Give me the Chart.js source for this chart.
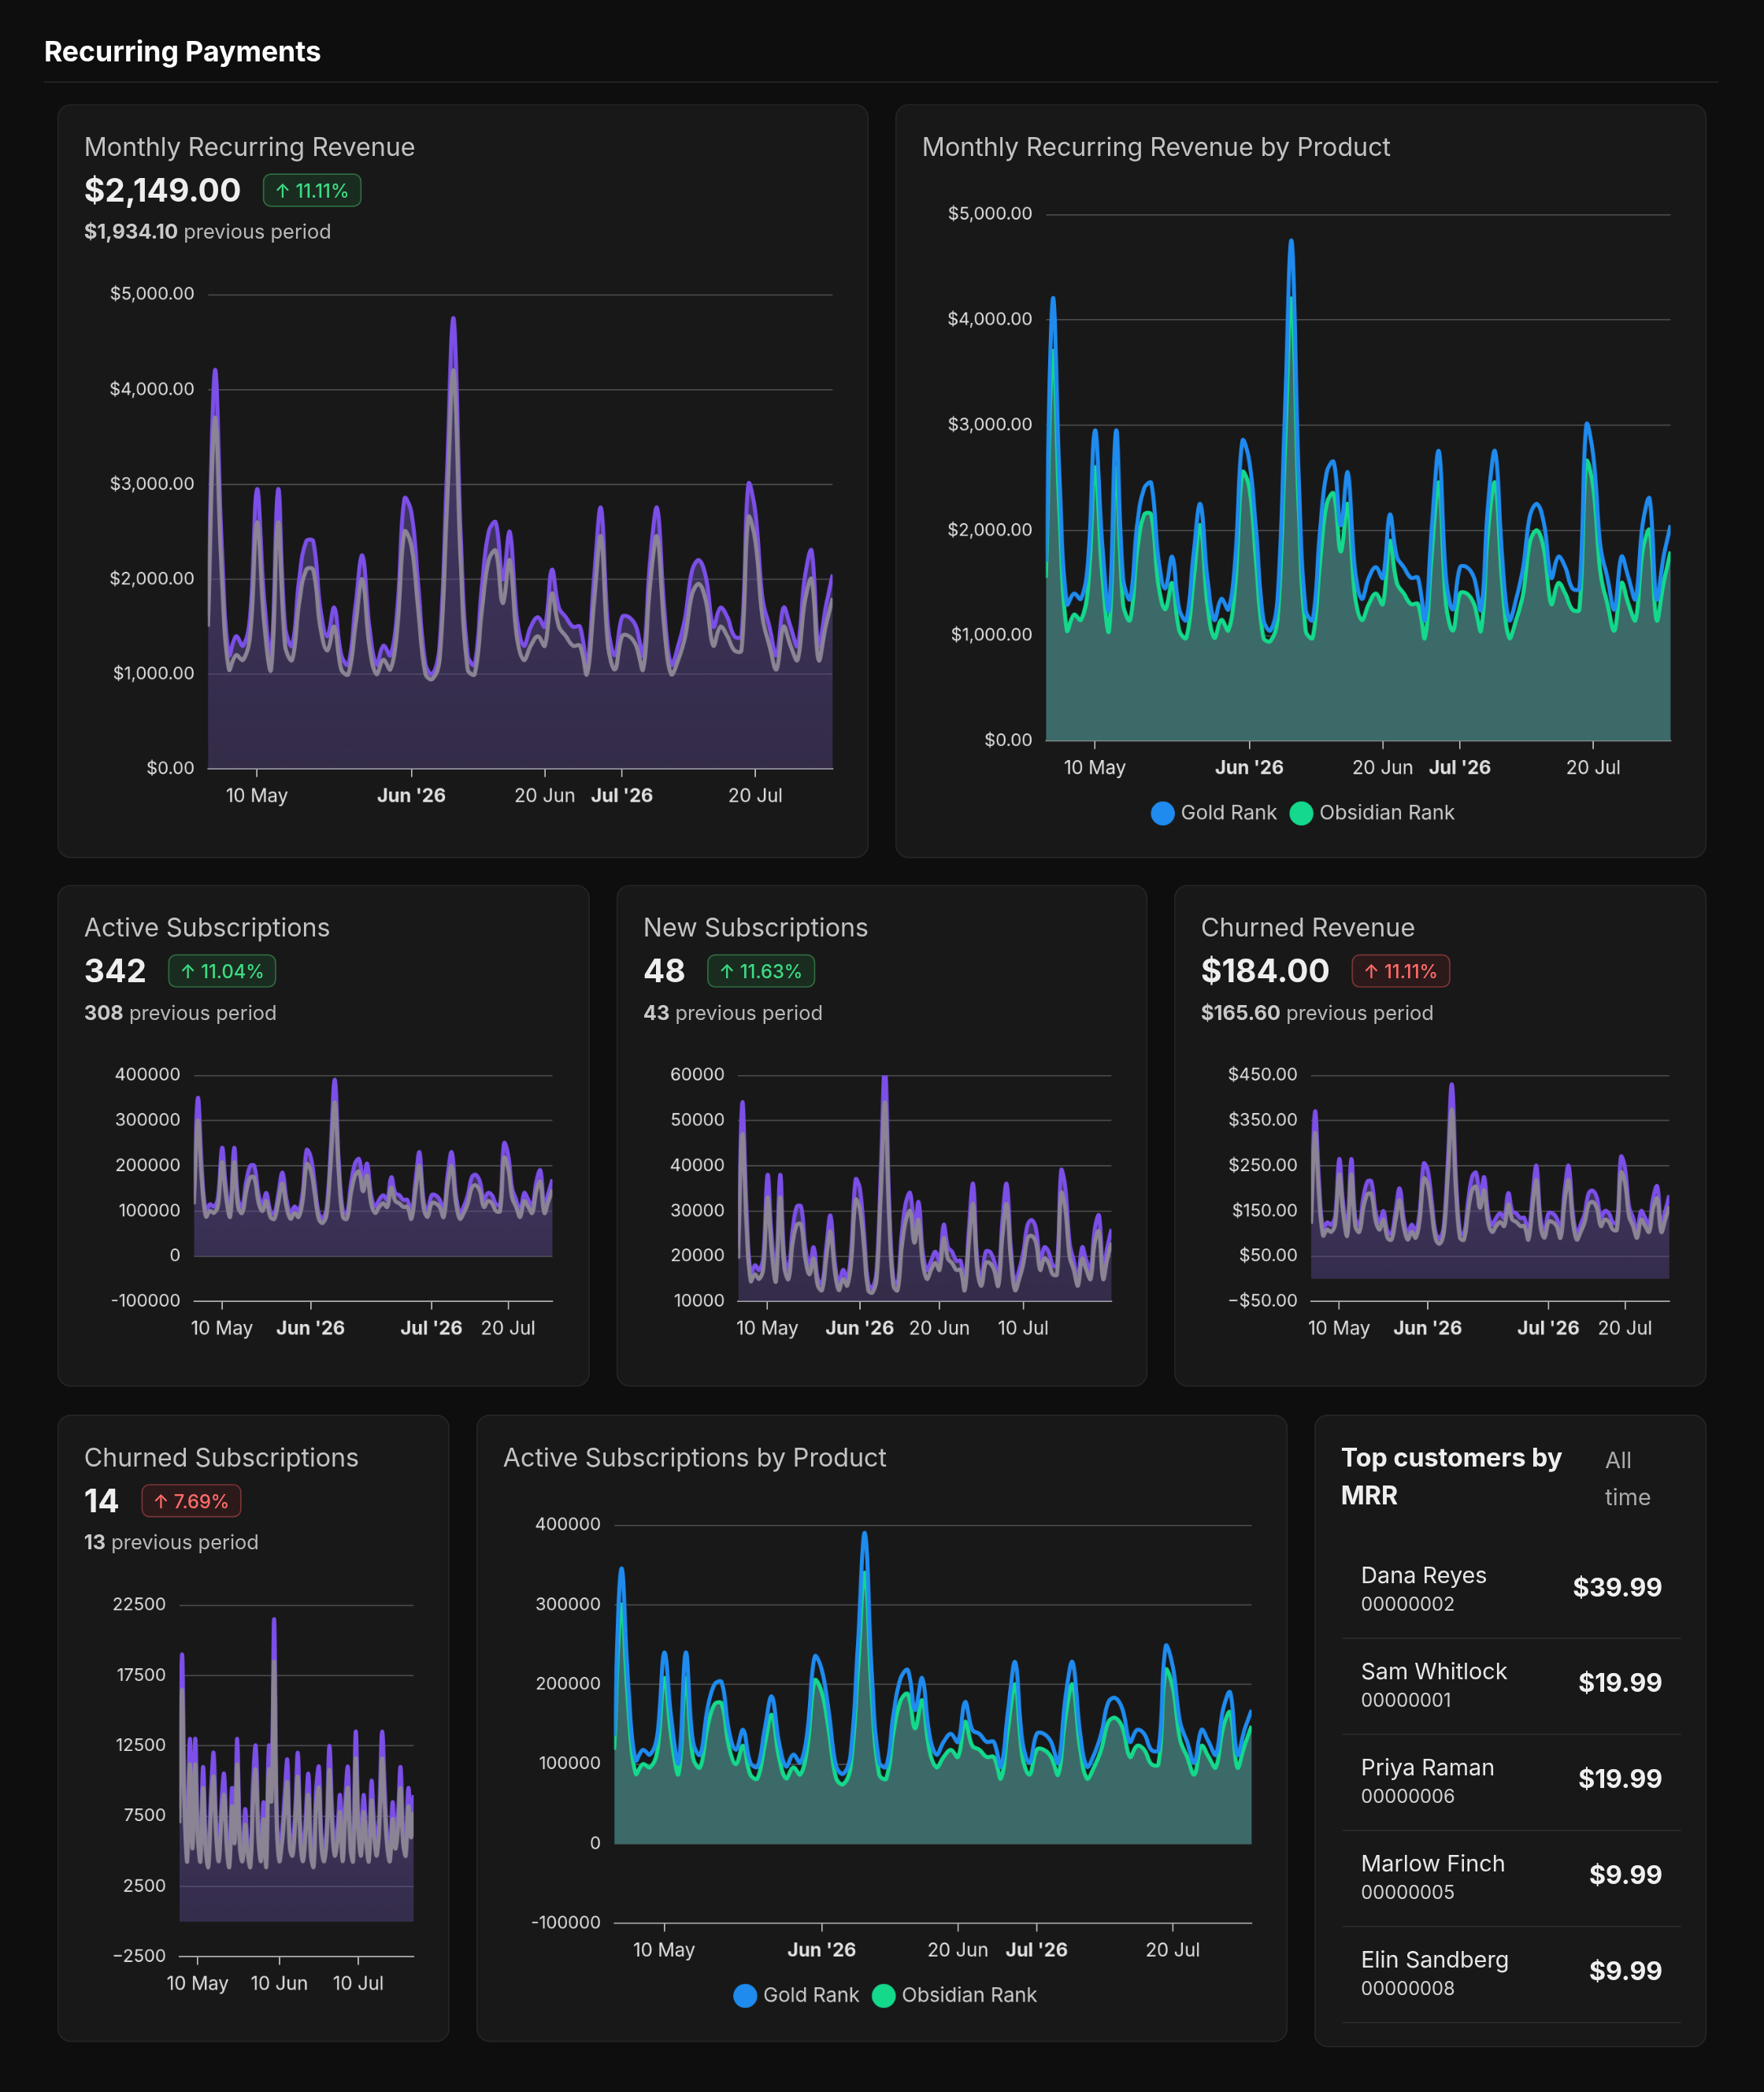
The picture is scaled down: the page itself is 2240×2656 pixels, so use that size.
<!DOCTYPE html>
<html><head><meta charset="utf-8">
<script src="https://cdn.jsdelivr.net/npm/chart.js@4"></script>
<style>
html,body{margin:0;padding:0;background:#0e0e0e;overflow:hidden}
body{width:2240px;height:2656px;font-family:Inter,"Noto Sans",sans-serif}
#wrap{position:absolute;left:0;top:0;width:1322px;height:1568px;transform:scale(1.69440);transform-origin:0 0;color:#ddd}
.title{position:absolute;left:33px;top:26px;font-size:21px;font-weight:700;color:#fff}
.div{position:absolute;left:33px;top:61px;width:1255px;height:1px;background:#262626}
.card{position:absolute;background:#181818;border:1px solid #252525;border-radius:10px;box-sizing:border-box}
.ct{position:absolute;left:19px;top:20px;font-size:19px;color:#c2c2c2;white-space:nowrap}
.val{position:absolute;left:19px;top:49px;font-size:24px;font-weight:700;color:#eee;display:flex;align-items:center}
.badge{margin-left:16px;font-size:14px;font-weight:500;padding:3px 8px;border-radius:6px}
.up{color:#3ddc84;background:#1a2c20;border:1px solid #2f6b3f}
.dn{color:#ff6b6b;background:#2c1a1a;border:1px solid #7a3535}
.prev{position:absolute;left:19px;top:85px;font-size:15px;color:#b8b8b8}
.prev b{color:#c8c8c8}
.cv{position:absolute}
.row{position:absolute;left:20px;width:254px;height:72px;border-bottom:1px solid #2c2c2c}
.nm{position:absolute;left:14px;top:15px;font-size:17px;color:#e6e6e6}
.id{position:absolute;left:14px;top:38px;font-size:14px;color:#d0d0d0}
.mv{position:absolute;right:14px;top:23px;font-size:19px;font-weight:700;color:#f0f0f0}
</style></head><body>
<div id="wrap">
<div class="title">Recurring Payments</div><div class="div"></div>

<div class="card" style="left:43px;top:78px;width:608px;height:565px">
 <div class="ct">Monthly Recurring Revenue</div>
 <div class="val">$2,149.00<span class="badge up">↑ 11.11%</span></div>
 <div class="prev"><b>$1,934.10</b> previous period</div>
 <div class="cv" style="left:20px;top:128px;width:570px;height:404px"><canvas id="c1"></canvas></div>
</div>
<div class="card" style="left:671px;top:78px;width:608px;height:565px">
 <div class="ct">Monthly Recurring Revenue by Product</div>
 <div class="cv" style="left:20px;top:68px;width:570px;height:480px"><canvas id="c2"></canvas></div>
</div>

<div class="card" style="left:43px;top:663px;width:399px;height:376px">
 <div class="ct">Active Subscriptions</div>
 <div class="val">342<span class="badge up">↑ 11.04%</span></div>
 <div class="prev"><b>308</b> previous period</div>
 <div class="cv" style="left:20px;top:128px;width:360px;height:218px"><canvas id="c3"></canvas></div>
</div>
<div class="card" style="left:462px;top:663px;width:398px;height:376px">
 <div class="ct">New Subscriptions</div>
 <div class="val">48<span class="badge up">↑ 11.63%</span></div>
 <div class="prev"><b>43</b> previous period</div>
 <div class="cv" style="left:20px;top:128px;width:360px;height:218px"><canvas id="c4"></canvas></div>
</div>
<div class="card" style="left:880px;top:663px;width:399px;height:376px">
 <div class="ct">Churned Revenue</div>
 <div class="val">$184.00<span class="badge dn">↑ 11.11%</span></div>
 <div class="prev"><b>$165.60</b> previous period</div>
 <div class="cv" style="left:20px;top:128px;width:360px;height:218px"><canvas id="c5"></canvas></div>
</div>

<div class="card" style="left:43px;top:1060px;width:294px;height:470px">
 <div class="ct">Churned Subscriptions</div>
 <div class="val">14<span class="badge dn">↑ 7.69%</span></div>
 <div class="prev"><b>13</b> previous period</div>
 <div class="cv" style="left:20px;top:128px;width:260px;height:312px"><canvas id="c6"></canvas></div>
</div>
<div class="card" style="left:357px;top:1060px;width:608px;height:470px">
 <div class="ct">Active Subscriptions by Product</div>
 <div class="cv" style="left:20px;top:68px;width:570px;height:384px"><canvas id="c7"></canvas></div>
</div>
<div class="card" id="tc" style="left:985px;top:1060px;width:294px;height:474px">
 <div style="position:absolute;left:19px;top:18px;width:190px;font-size:19px;font-weight:700;color:#eee;line-height:28px">Top customers by MRR</div>
 <div style="position:absolute;left:217px;top:19px;width:44px;font-size:17px;color:#aaa;line-height:28px">All time</div>
</div>
</div>
<script>
// ---------- data ----------
const days = 90; // 3 May 2026 .. 31 Jul 2026 (index = day)
const tickIdx = [7, 29, 48, 59, 78];
const tickLabels = ["10 May", "Jun '26", "20 Jun", "Jul '26", "20 Jul"];
const boldLabels = ["Jun '26", "Jul '26"];
const churnSubTickIdx = [7, 38, 68];
const churnSubTickLabels = ["10 May", "10 Jun", "10 Jul"];
const newSubTickIdx = [7, 29, 48, 68];
const newSubTickLabels = ["10 May", "Jun '26", "20 Jun", "10 Jul"];
const smallTickIdx = [7, 29, 59, 78];
const smallTickLabels = ["10 May", "Jun '26", "Jul '26", "20 Jul"];

const mrrCurrent = [1600,4200,2300,1200,1400,1300,1600,2950,1800,1200,2950,1500,1300,2000,2400,2400,1700,1400,1700,1200,1100,1700,2250,1500,1100,1300,1200,1700,2850,2700,1900,1100,1000,1300,3000,4750,2500,1200,1100,1900,2500,2600,2000,2500,1600,1300,1500,1600,1500,2100,1700,1600,1500,1500,1100,2000,2750,1500,1200,1600,1600,1500,1200,2200,2750,1700,1100,1300,1600,2100,2200,2000,1500,1700,1600,1400,1400,3000,2700,1800,1500,1200,1700,1500,1300,2000,2300,1300,1700,2050];
const mrrPrevious = [1500,3700,2000,1050,1200,1150,1400,2600,1550,1050,2600,1300,1150,1750,2100,2100,1500,1250,1500,1050,1000,1500,2000,1300,1000,1150,1050,1500,2500,2350,1650,1000,950,1150,2650,4200,2200,1050,1000,1650,2200,2300,1750,2200,1400,1150,1300,1400,1300,1850,1500,1400,1300,1300,1000,1750,2450,1300,1050,1400,1400,1300,1050,1950,2450,1500,1000,1150,1400,1850,1950,1750,1300,1500,1400,1250,1250,2650,2400,1600,1300,1050,1500,1300,1150,1750,2000,1150,1500,1800];
const mrrGold = [1700,4200,2400,1300,1400,1350,1700,2950,1900,1250,2950,1550,1350,2050,2400,2450,1750,1450,1750,1250,1150,1750,2250,1550,1150,1350,1250,1750,2850,2650,1950,1150,1050,1350,3000,4750,2550,1250,1150,1950,2550,2650,2050,2550,1650,1350,1550,1650,1550,2150,1750,1650,1550,1550,1150,2050,2750,1550,1250,1650,1650,1550,1250,2250,2750,1750,1150,1350,1650,2150,2250,2050,1550,1750,1650,1450,1450,3000,2700,1850,1550,1250,1750,1550,1350,2050,2300,1350,1750,2050];
const mrrObsidian = [1550,3700,2050,1050,1200,1150,1450,2600,1600,1050,2600,1300,1150,1800,2150,2150,1500,1250,1500,1050,980,1500,2050,1300,980,1150,1050,1500,2550,2400,1650,980,950,1150,2650,4200,2250,1050,980,1650,2250,2350,1800,2250,1400,1150,1300,1400,1300,1900,1500,1400,1300,1300,980,1800,2450,1300,1050,1400,1400,1300,1050,2000,2450,1500,980,1150,1400,1900,2000,1800,1300,1500,1400,1250,1250,2650,2400,1600,1300,1050,1500,1300,1150,1800,2000,1150,1500,1800];
const activeCurrent = [130000,350000,190000,100000,115000,110000,130000,240000,150000,100000,240000,125000,110000,165000,200000,200000,140000,115000,140000,100000,95000,140000,185000,125000,95000,110000,100000,140000,235000,220000,160000,95000,85000,110000,245000,390000,205000,100000,95000,160000,205000,215000,165000,205000,135000,110000,125000,135000,125000,175000,140000,135000,125000,125000,95000,165000,230000,125000,100000,135000,135000,125000,100000,180000,230000,140000,95000,110000,135000,175000,180000,165000,125000,140000,135000,115000,115000,250000,225000,150000,125000,100000,140000,125000,110000,165000,190000,110000,140000,170000];
const activePrevious = [115000,300000,165000,88000,100000,96000,113000,208000,130000,88000,208000,108000,96000,143000,174000,174000,122000,100000,122000,87000,83000,122000,161000,109000,83000,96000,87000,122000,204000,191000,139000,83000,74000,96000,213000,340000,178000,87000,83000,139000,178000,187000,144000,178000,117000,96000,109000,117000,109000,152000,122000,117000,109000,109000,83000,144000,200000,109000,87000,117000,117000,109000,87000,157000,200000,122000,83000,96000,117000,152000,157000,144000,109000,122000,117000,100000,100000,218000,196000,130000,109000,87000,122000,109000,96000,144000,165000,96000,122000,148000];
const activeGold = [135000,345000,195000,105000,118000,112000,135000,240000,155000,102000,240000,128000,112000,168000,200000,203000,143000,118000,143000,102000,97000,143000,185000,128000,97000,112000,102000,143000,235000,218000,163000,97000,88000,112000,245000,390000,208000,102000,97000,163000,208000,218000,168000,208000,138000,112000,128000,138000,128000,178000,143000,138000,128000,128000,97000,168000,228000,128000,102000,138000,138000,128000,102000,183000,228000,143000,97000,112000,138000,178000,183000,168000,128000,143000,138000,118000,118000,248000,222000,153000,128000,102000,143000,128000,112000,168000,190000,112000,143000,168000];
const activeObsidian = [118000,300000,168000,88000,100000,96000,115000,208000,132000,88000,208000,108000,96000,145000,175000,176000,123000,100000,123000,87000,82000,123000,162000,109000,82000,96000,87000,123000,205000,190000,140000,82000,75000,96000,213000,340000,180000,87000,82000,140000,180000,188000,145000,180000,118000,96000,109000,118000,109000,153000,123000,118000,109000,109000,82000,145000,200000,109000,87000,118000,118000,109000,87000,158000,200000,123000,82000,96000,118000,153000,158000,145000,109000,123000,118000,100000,100000,218000,196000,131000,109000,87000,123000,109000,96000,145000,165000,96000,123000,148000];
const newCurrent = [22000,54000,30000,16000,18000,17000,20000,38000,24000,16000,38000,20000,17000,26000,31000,31000,22000,18000,22000,15000,14000,22000,29000,19000,14000,17000,15000,22000,37000,35000,25000,14000,13000,17000,39000,62000,32000,15000,14000,25000,32000,34000,26000,32000,21000,17000,19000,21000,19000,27000,22000,21000,19000,19000,14000,26000,36000,19000,15000,21000,21000,19000,15000,28000,36000,22000,14000,17000,21000,27000,28000,26000,19000,22000,21000,18000,18000,39000,35000,23000,19000,15000,22000,19000,17000,26000,29000,17000,22000,26000];
const newPrevious = [19500,47000,26500,14500,16000,15000,17500,33000,21000,14500,33000,17500,15000,23000,27000,27000,19500,16000,19500,13500,12500,19500,25500,17000,12500,15000,13500,19500,32500,30500,22000,12500,12000,15000,34000,54000,28000,13500,12500,22000,28000,30000,23000,28000,18500,15000,17000,18500,17000,24000,19500,18500,17000,17000,12500,23000,31500,17000,13500,18500,18500,17000,13500,24500,31500,19500,12500,15000,18500,24000,24500,23000,17000,19500,18500,16000,16000,34000,30500,20000,17000,13500,19500,17000,15000,23000,25500,15000,19500,23000];
const churnRevCurrent = [140,370,210,110,125,120,140,265,165,110,265,135,120,180,215,215,150,125,150,105,100,150,200,135,100,120,105,150,255,240,170,100,90,120,265,430,225,105,100,170,225,235,180,225,145,120,135,145,135,190,150,145,135,135,100,180,250,135,105,145,145,135,105,195,250,150,100,120,145,190,195,180,135,150,145,125,125,270,245,160,135,105,150,135,120,180,205,120,150,185];
const churnRevPrevious = [122,322,183,96,109,104,122,231,144,96,231,117,104,157,187,187,131,109,131,91,87,131,174,117,87,104,91,131,222,209,148,87,78,104,231,374,196,91,87,148,196,204,157,196,126,104,117,126,117,165,131,126,117,117,87,157,218,117,91,126,126,117,91,170,218,131,87,104,126,165,170,157,117,131,126,109,109,235,213,139,117,91,131,117,104,157,178,104,131,161];
const churnSubsCurrent = [8000,19000,9000,5000,13000,6000,13000,7000,5000,11000,6000,4500,9000,12000,7000,5000,8500,10500,6000,4500,9500,6500,13000,6000,5000,8000,5500,4500,10000,12500,7000,5000,8500,4500,12500,10000,21500,8000,5000,6500,9000,11500,6000,5500,8000,12000,6500,5000,7500,10500,5500,4500,9500,11000,6000,5000,7000,12500,8000,5500,6500,9000,5000,8500,11000,6000,5000,13500,7500,5500,9000,6500,5000,10000,7000,5500,8000,13500,9500,6000,5000,8500,6000,7500,11000,6500,5500,9500,7000,9000];
const churnSubsPrevious = [7000,16500,7800,4300,11200,5200,11200,6000,4300,9500,5200,3900,7800,10300,6000,4300,7300,9000,5200,3900,8200,5600,11200,5200,4300,6900,4700,3900,8600,10800,6000,4300,7300,3900,10800,8600,18500,6900,4300,5600,7800,9900,5200,4700,6900,10300,5600,4300,6500,9000,4700,3900,8200,9500,5200,4300,6000,10800,6900,4700,5600,7800,4300,7300,9500,5200,4300,11600,6500,4700,7800,5600,4300,8600,6000,4700,6900,11600,8200,5200,4300,7300,5200,6500,9500,5600,4700,8200,6000,7800];
const customerNames = ["Dana Reyes","Sam Whitlock","Priya Raman","Marlow Finch","Elin Sandberg"];
const customerIds = ["00000002","00000001","00000006","00000005","00000008"];
const customerMrr = ["$39.99","$19.99","$19.99","$9.99","$9.99"];

// ---------- customers ----------
const tc = document.getElementById('tc');
customerNames.forEach((n,i)=>{
  const r=document.createElement('div');r.className='row';r.style.top=(94+i*72)+'px';
  r.innerHTML=`<div class="nm">${n}</div><div class="id">${customerIds[i]}</div><div class="mv">${customerMrr[i]}</div>`;
  tc.appendChild(r);
});

// ---------- charts ----------
Chart.defaults.font.family = 'Inter, "Noto Sans", sans-serif';
Chart.defaults.color = '#ddd';
const pts = arr => arr.map((v,i)=>({x:i,y:v}));
const money = v => '$' + v.toLocaleString('en-US',{minimumFractionDigits:2,maximumFractionDigits:2});
function purpleFill(ctx){
  const ca = ctx.chart.chartArea; if(!ca) return 'rgba(100,80,150,0.5)';
  const g = ctx.chart.ctx.createLinearGradient(0,ca.top,0,ca.bottom);
  g.addColorStop(0,'rgba(115,90,190,0.55)'); g.addColorStop(1,'rgba(80,65,120,0.5)');
  return g;
}
function make(id, cfg){
  const {sets, yMin, yMax, step, fmt, tIdx, tLab, legend, pad, xFont=14, yFont=13} = cfg;
  new Chart(document.getElementById(id), {
    type:'line',
    data:{datasets:sets},
    options:{
      responsive:true, maintainAspectRatio:false, animation:false, devicePixelRatio:2,
      elements:{point:{radius:0}, line:{tension:0.4, borderWidth:3}},
      layout:{padding:pad},
      plugins:{tooltip:{enabled:false},
        legend:{display:!!legend, position:'bottom',
          labels:{usePointStyle:true, pointStyle:'circle', boxWidth:12, boxHeight:12, color:'#ccc', font:{size:15}, padding:12}}},
      scales:{
        x:{type:'linear', min:0, max:days-1,
          afterBuildTicks: ax => { ax.ticks = tIdx.map(v=>({value:v})); },
          ticks:{autoSkip:false, maxRotation:0, padding:6, color:'#e0e0e0',
            callback: v => tLab[tIdx.indexOf(v)] || '',
            font: c => ({size:xFont, weight: (c.tick && boldLabels.includes(tLab[tIdx.indexOf(c.tick.value)])) ? 'bold':'normal'})},
          grid:{drawOnChartArea:false, drawTicks:true, tickLength:6, color:'#bbb'},
          border:{color:'#aaa', width:1}},
        y:{min:yMin, max:yMax, 
          afterBuildTicks: ax => { const t=[]; for(let v=yMin; v<=yMax+1e-9; v+=step) t.push({value:v}); ax.ticks=t; },
          ticks:{callback: fmt, color:'#e0e0e0', font:{size:yFont}, padding:6},
          grid:{color:'#4a4a4a', drawTicks:true, tickLength:4, tickColor:'transparent'},
          border:{display:false}}
      }
    }
  });
}
function pair(cur, prev){
  return [
    {data:pts(cur), borderColor:'#7c4fe8', fill:'origin', backgroundColor:purpleFill, order:1},
    {data:pts(prev), borderColor:'#8b8494', fill:false, order:0}
  ];
}
function prod(gold, obs){
  return [
    {label:'Gold Rank', data:pts(gold), borderColor:'#1f8bef', backgroundColor:'#1f8bef', fill:false},
    {label:'Obsidian Rank', data:pts(obs), borderColor:'#14d98c', backgroundColor:'#14d98c', fill:{target:'origin', above:'#3c6a68'}}
  ];
}
make('c1',{sets:pair(mrrCurrent,mrrPrevious), yMin:0,yMax:5000,step:1000,fmt:money,tIdx:tickIdx,tLab:tickLabels,pad:{left:12,right:10}});
make('c2',{sets:prod(mrrGold,mrrObsidian), yMin:0,yMax:5000,step:1000,fmt:money,tIdx:tickIdx,tLab:tickLabels,legend:true,pad:{left:12,right:10}});
make('c3',{sets:pair(activeCurrent,activePrevious), yMin:-100000,yMax:400000,step:100000,fmt:v=>String(v),tIdx:smallTickIdx,tLab:smallTickLabels,pad:{left:13,right:10}});
make('c4',{sets:pair(newCurrent,newPrevious), yMin:10000,yMax:60000,step:10000,fmt:v=>String(v),tIdx:newSubTickIdx,tLab:newSubTickLabels,pad:{left:13,right:10}});
make('c5',{sets:pair(churnRevCurrent,churnRevPrevious), yMin:-50,yMax:450,step:100,fmt:v=>(v<0?'−$'+Math.abs(v).toFixed(2):'$'+v.toFixed(2)),tIdx:smallTickIdx,tLab:smallTickLabels,pad:{left:13,right:10}});
make('c6',{sets:pair(churnSubsCurrent,churnSubsPrevious), yMin:-2500,yMax:22500,step:5000,fmt:v=>(v<0?'−'+Math.abs(v):String(v)),tIdx:churnSubTickIdx,tLab:churnSubTickLabels,pad:{left:14,right:14}});
make('c7',{sets:prod(activeGold,activeObsidian), yMin:-100000,yMax:400000,step:100000,fmt:v=>String(v),tIdx:tickIdx,tLab:tickLabels,legend:true,pad:{left:14,right:10}});
</script>
</body></html>
